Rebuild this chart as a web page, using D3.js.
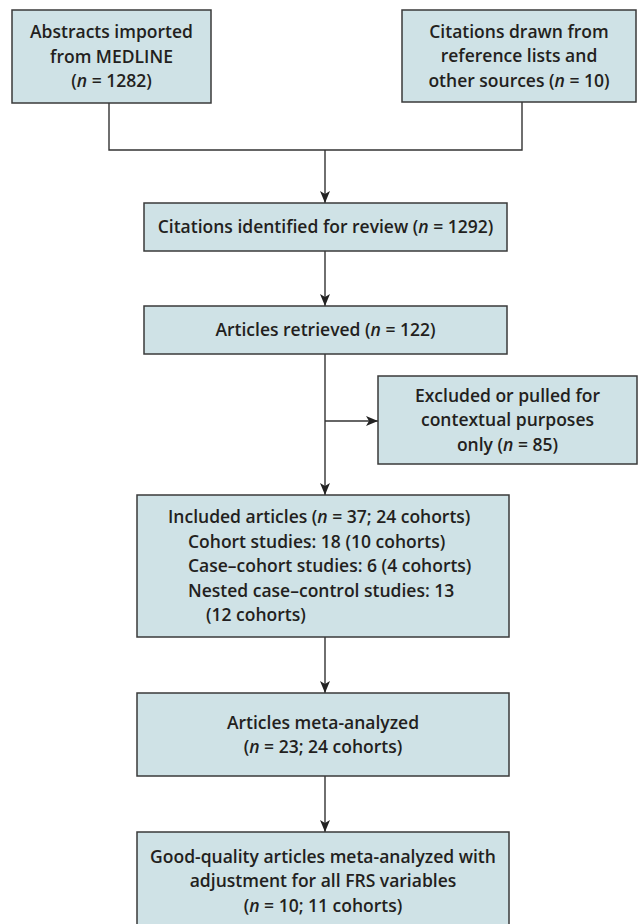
<!DOCTYPE html>
<html>
<head>
<meta charset="utf-8">
<script src="https://cdn.jsdelivr.net/npm/d3@7"></script>
<style>
    body { margin: 0; background: #fff; }
    svg { display: block; }
    .box { fill: #cfe2e6; stroke: #3a3a3a; stroke-width: 1.5; }
    .link { fill: none; stroke: #333; stroke-width: 1.4; }
    .label { font-family: "Open Sans", sans-serif; font-weight: 600; font-size: 17.5px; fill: #231f20; }
</style>
</head>
<body>
<div id="chart"></div>
<script>
// Flowchart of the literature search
// "*n*" marks the italic n in the labels

const STAGES = ['medline', 'other', 'identified', 'retrieved', 'excluded', 'included', 'meta', 'good'];

const LABELS = [
    ['Abstracts imported', 'from MEDLINE', '(*n* = 1282)'],
    ['Citations drawn from', 'reference lists and', 'other sources (*n* = 10)'],
    ['Citations identified for review (*n* = 1292)'],
    ['Articles retrieved (*n* = 122)'],
    ['Excluded or pulled for', 'contextual purposes', 'only (*n* = 85)'],
    ['Included articles (*n* = 37; 24 cohorts)', 'Cohort studies: 18 (10 cohorts)',
     'Case\u2013cohort studies: 6 (4 cohorts)', 'Nested case\u2013control studies: 13', '(12 cohorts)'],
    ['Articles meta-analyzed', '(*n* = 23; 24 cohorts)'],
    ['Good-quality articles meta-analyzed with', 'adjustment for all FRS variables', '(*n* = 10; 11 cohorts)']
];

const COUNTS = [1282, 10, 1292, 122, 85, 37, 23, 10];

// layout (pixels): box rectangles [x0, y0, x1, y1]
const LAYOUT = {
    medline:    [12, 10, 211, 103],
    other:      [402, 10, 636, 102],
    identified: [144, 203, 507, 251],
    retrieved:  [144, 306, 507, 354],
    excluded:   [378, 376, 637, 464],
    included:   [137, 495, 509, 637],
    meta:       [137, 693, 509, 776],
    good:       [137, 832, 509, 930]
};

// left-aligned lines inside the "included" box
const INDENTS = [168, 188, 188, 188, 206];

const width = 641, height = 924;
const lineGap = 24.5;
const mainX = 325;

const svg = d3.select('#chart').append('svg')
    .attr('width', width)
    .attr('height', height);

svg.append('defs').append('marker')
    .attr('id', 'arrow')
    .attr('viewBox', '0 0 12 10')
    .attr('refX', 12)
    .attr('refY', 5)
    .attr('markerWidth', 12)
    .attr('markerHeight', 10)
    .attr('markerUnits', 'userSpaceOnUse')
    .attr('orient', 'auto')
    .append('path')
    .attr('d', 'M0,0 L12,5 L0,10 L3,5 Z')
    .attr('fill', '#222');

const nodes = STAGES.map((id, i) => ({ id, lines: LABELS[i], n: COUNTS[i], r: LAYOUT[id] }));
const byId = Object.fromEntries(nodes.map(d => [d.id, d]));

// connectors
const line = d3.line();
const boxTop = id => byId[id].r[1];
const boxBottom = id => byId[id].r[3];
const links = [
    { pts: [[109, boxBottom('medline')], [109, 150], [522, 150], [522, boxBottom('other')]], arrow: false },
    { pts: [[mainX, 150], [mainX, boxTop('identified')]], arrow: true },
    { pts: [[mainX, boxBottom('identified')], [mainX, boxTop('retrieved')]], arrow: true },
    { pts: [[mainX, boxBottom('retrieved')], [mainX, boxTop('included')]], arrow: true },
    { pts: [[mainX, 421], [byId.excluded.r[0], 421]], arrow: true },
    { pts: [[mainX, boxBottom('included')], [mainX, boxTop('meta')]], arrow: true },
    { pts: [[mainX, boxBottom('meta')], [mainX, boxTop('good')]], arrow: true }
];

svg.selectAll('.link')
    .data(links)
    .enter()
    .append('path')
    .attr('class', 'link')
    .attr('d', d => line(d.pts))
    .attr('marker-end', d => d.arrow ? 'url(#arrow)' : null);

// boxes
const g = svg.selectAll('.node')
    .data(nodes)
    .enter()
    .append('g')
    .attr('class', 'node');

g.append('rect')
    .attr('class', 'box')
    .attr('x', d => d.r[0])
    .attr('y', d => d.r[1])
    .attr('width', d => d.r[2] - d.r[0])
    .attr('height', d => d.r[3] - d.r[1]);

g.each(function(d) {
    const node = d3.select(this);
    const [x0, y0, x1, y1] = d.r;
    const visibleBottom = Math.min(y1, height);
    let cy = (y0 + visibleBottom) / 2;
    if (d.id === 'good') cy = 881;
    const firstY = cy - (d.lines.length - 1) * lineGap / 2;

    d.lines.forEach((txt, i) => {
        const left = d.id === 'included';
        const t = node.append('text')
            .attr('class', 'label')
            .attr('x', left ? INDENTS[i] : (x0 + x1) / 2)
            .attr('y', firstY + i * lineGap + 6.3)
            .attr('text-anchor', left ? 'start' : 'middle');

        txt.split('*').forEach((part, k) => {
            if (!part) return;
            t.append('tspan')
                .style('font-style', k % 2 ? 'italic' : 'normal')
                .text(part);
        });
    });
});
</script>
</body>
</html>
